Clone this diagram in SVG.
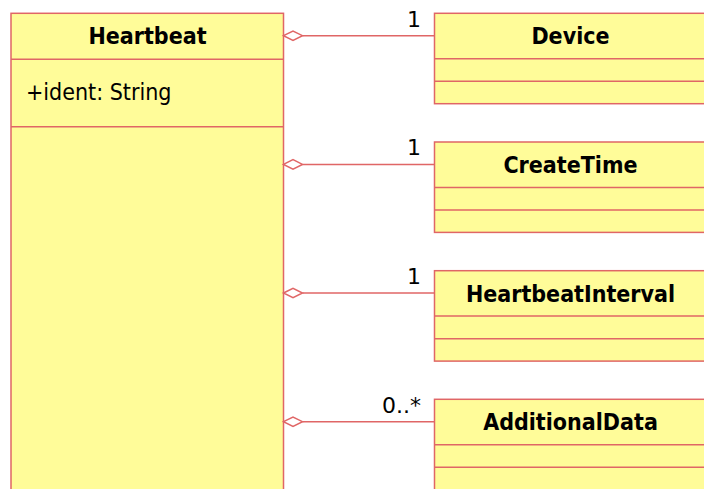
<svg xmlns="http://www.w3.org/2000/svg" width="704" height="489" viewBox="0 0 704 489">
<defs>
<style>
.box{fill:#FFFC99;stroke:#E06666;stroke-width:1.5}
.ln{stroke:#E06666;stroke-width:1.5;fill:none}
.title{font-family:"DejaVu Sans Condensed","DejaVu Sans",sans-serif;font-stretch:condensed;font-weight:bold;font-size:23px;fill:#000;text-anchor:middle}
.attr{font-family:"DejaVu Sans Condensed","DejaVu Sans",sans-serif;font-stretch:condensed;font-size:23px;fill:#000}
.mult{font-family:"DejaVu Sans",sans-serif;font-size:22px;fill:#000;text-anchor:end}
.dia{fill:#fff;stroke:#E06666;stroke-width:1.5}
</style>
</defs>
<rect width="704" height="489" fill="#fff"/>
<g id="Heartbeat">
<rect class="box" x="11" y="13.3" width="272.5" height="500"/>
<line class="ln" x1="11" y1="59.3" x2="283.5" y2="59.3"/>
<line class="ln" x1="11" y1="126.7" x2="283.5" y2="126.7"/>
<text class="title" x="147.5" y="44.3">Heartbeat</text>
<text class="attr" x="26" y="100">+ident: String</text>
</g>
<g id="Device">
<rect class="box" x="434.5" y="13.3" width="272" height="90.4"/>
<line class="ln" x1="434.5" y1="58.7" x2="706.5" y2="58.7"/>
<line class="ln" x1="434.5" y1="81.3" x2="706.5" y2="81.3"/>
<text class="title" x="570.5" y="44.3">Device</text>
</g>
<g id="CreateTime">
<rect class="box" x="434.5" y="142" width="272" height="90.4"/>
<line class="ln" x1="434.5" y1="187.4" x2="706.5" y2="187.4"/>
<line class="ln" x1="434.5" y1="210" x2="706.5" y2="210"/>
<text class="title" x="570.5" y="173">CreateTime</text>
</g>
<g id="HeartbeatInterval">
<rect class="box" x="434.5" y="270.7" width="272" height="90.4"/>
<line class="ln" x1="434.5" y1="316.1" x2="706.5" y2="316.1"/>
<line class="ln" x1="434.5" y1="338.7" x2="706.5" y2="338.7"/>
<text class="title" x="570.5" y="301.7">HeartbeatInterval</text>
</g>
<g id="AdditionalData">
<rect class="box" x="434.5" y="399.3" width="272" height="120"/>
<line class="ln" x1="434.5" y1="444.7" x2="706.5" y2="444.7"/>
<line class="ln" x1="434.5" y1="467.3" x2="706.5" y2="467.3"/>
<text class="title" x="570.5" y="430.3">AdditionalData</text>
</g>
<g id="connectors">
<line class="ln" x1="302.5" y1="35.7" x2="434.5" y2="35.7"/>
<path class="dia" d="M283.5 35.7 L293 31 L302.5 35.7 L293 40.4 Z"/>
<text class="mult" x="421" y="26.7">1</text>
<line class="ln" x1="302.5" y1="164.4" x2="434.5" y2="164.4"/>
<path class="dia" d="M283.5 164.4 L293 159.7 L302.5 164.4 L293 169.1 Z"/>
<text class="mult" x="421" y="155.4">1</text>
<line class="ln" x1="302.5" y1="293" x2="434.5" y2="293"/>
<path class="dia" d="M283.5 293 L293 288.3 L302.5 293 L293 297.7 Z"/>
<text class="mult" x="421" y="284">1</text>
<line class="ln" x1="302.5" y1="421.7" x2="434.5" y2="421.7"/>
<path class="dia" d="M283.5 421.7 L293 417 L302.5 421.7 L293 426.4 Z"/>
<text class="mult" x="421" y="412.7">0..*</text>
</g>
</svg>
